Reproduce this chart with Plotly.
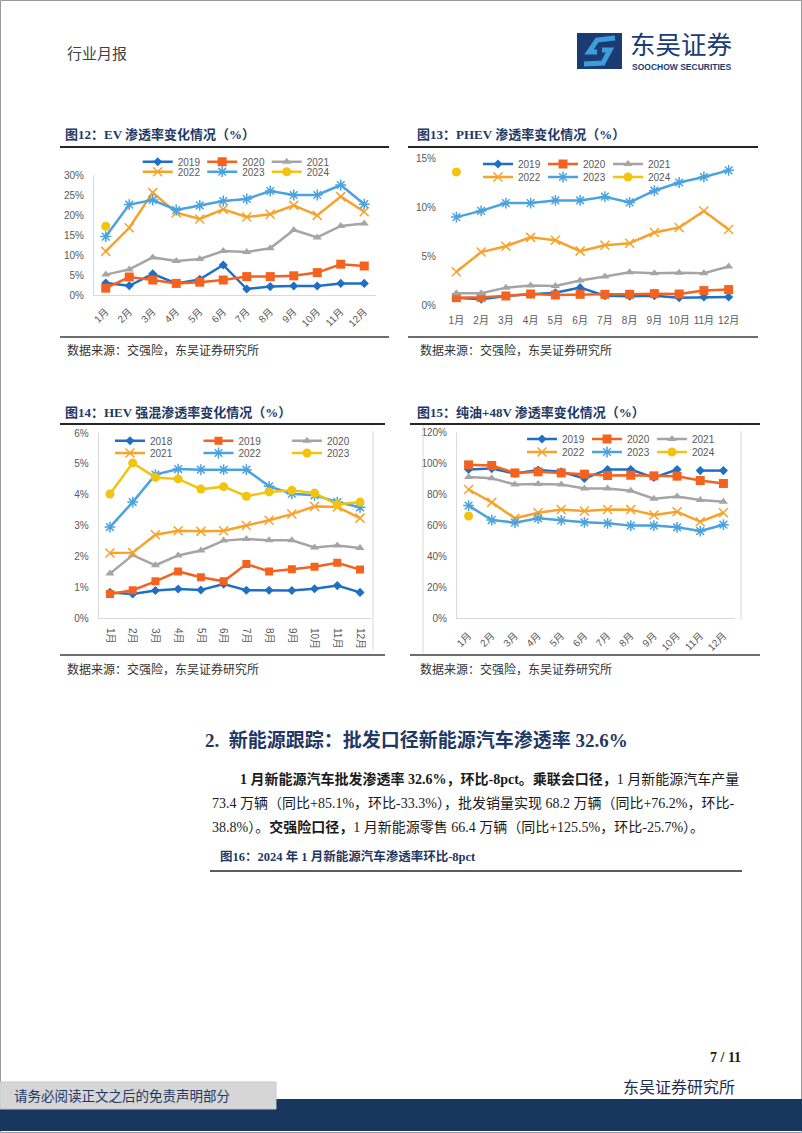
import plotly.graph_objects as go

W, H = 802, 1133

months = ['1月', '2月', '3月', '4月', '5月', '6月', '7月', '8月', '9月', '10月', '11月', '12月']

# 图12 EV 渗透率 (%)
ev_2019 = [3.0, 2.3, 5.3, 2.9, 3.9, 7.5, 1.5, 2.1, 2.25, 2.25, 2.9, 2.9]
ev_2020 = [1.7, 4.5, 3.75, 2.9, 3.2, 3.75, 4.6, 4.6, 4.8, 5.6, 7.7, 7.25]
ev_2021 = [5.1, 6.4, 9.4, 8.5, 9.0, 11.0, 10.75, 11.7, 16.25, 14.4, 17.25, 17.9]
ev_2022 = [10.9, 16.8, 25.6, 20.6, 19.0, 21.4, 19.5, 20.2, 22.4, 19.9, 24.6, 20.8]
ev_2023 = [14.6, 22.6, 23.75, 21.25, 22.4, 23.5, 24.0, 26.0, 25.0, 25.0, 27.5, 22.7]
ev_2024 = [17.2]

# 图13 PHEV 渗透率 (%)
phev_2019 = [0.75, 0.58, 0.92, 1.1, 1.25, 1.77, 0.95, 0.89, 0.95, 0.75, 0.82, 0.82]
phev_2020 = [0.75, 0.78, 0.92, 1.12, 1.02, 1.09, 1.09, 1.09, 1.16, 1.12, 1.47, 1.57]
phev_2021 = [1.2, 1.2, 1.77, 2.0, 1.95, 2.5, 2.9, 3.35, 3.24, 3.3, 3.24, 3.92]
phev_2022 = [3.4, 5.4, 6.0, 6.9, 6.6, 5.5, 6.1, 6.3, 7.4, 7.9, 9.6, 7.7]
phev_2023 = [8.97, 9.6, 10.4, 10.4, 10.67, 10.67, 11.05, 10.47, 11.66, 12.5, 13.06, 13.74]
phev_2024 = [13.57]

# 图14 HEV 强混渗透率 (%)
hev_2018 = [0.83, 0.78, 0.89, 0.94, 0.91, 1.1, 0.9, 0.9, 0.89, 0.95, 1.05, 0.83]
hev_2019 = [0.78, 0.9, 1.19, 1.51, 1.32, 1.19, 1.75, 1.51, 1.58, 1.66, 1.79, 1.57]
hev_2020 = [1.44, 2.04, 1.71, 2.03, 2.19, 2.51, 2.56, 2.52, 2.52, 2.29, 2.35, 2.27]
hev_2021 = [2.11, 2.12, 2.7, 2.83, 2.81, 2.83, 3.0, 3.17, 3.37, 3.62, 3.6, 3.24]
hev_2022 = [2.95, 3.76, 4.65, 4.83, 4.81, 4.81, 4.81, 4.27, 4.03, 3.98, 3.76, 3.59]
hev_2023 = [4.02, 5.03, 4.56, 4.51, 4.18, 4.26, 3.95, 4.09, 4.14, 4.05, 3.68, 3.76]

# 图15 纯油+48V 渗透率 (%)
oil_2019 = [95.8, 96.4, 93.2, 95.4, 94.3, 90.0, 95.8, 95.8, 90.6, 95.8, 95.1, 95.1]
oil_2020 = [98.8, 98.4, 93.6, 94.3, 93.6, 92.8, 91.9, 92.1, 91.7, 91.5, 88.7, 86.8]
oil_2021 = [91.0, 90.2, 86.1, 86.4, 86.1, 83.6, 83.6, 82.1, 77.0, 78.4, 76.1, 75.0]
oil_2022 = [82.9, 74.6, 64.3, 67.9, 70.0, 69.0, 70.0, 69.9, 66.4, 68.6, 62.1, 67.9]
oil_2023 = [72.5, 63.2, 61.5, 64.3, 63.0, 61.7, 61.1, 59.6, 59.6, 58.5, 56.1, 60.2]
oil_2024 = [65.8]

SANS = 'Liberation Sans, Arial, Noto Sans CJK SC, sans-serif'
SERIF = 'Liberation Serif, Times New Roman, Noto Sans CJK SC, serif'
CJK = 'Noto Sans CJK SC, sans-serif'
NAVY = '#1F3864'

STY = {
    'blue': dict(color='#1F6FC5', symbol='diamond', size=7, open=False),
    'red': dict(color='#F4621F', symbol='square', size=8, open=False),
    'gray': dict(color='#A5A5A5', symbol='triangle-up', size=8, open=False),
    'orange': dict(color='#F7A22B', symbol='x-thin-open', size=9, open=True),
    'lblue': dict(color='#4AA3DF', symbol='asterisk-open', size=9, open=True),
    'yellow': dict(color='#F2C40F', symbol='circle', size=9, open=False),
}


def px(x):
    return x / W


def py(y):
    return 1 - y / H


fig = go.Figure()


def add(ax, name, x, y, sty, legend, showlegend=True, size=None):
    s = STY[sty]
    sz = size or s['size']
    if s['open']:
        mk = dict(symbol=s['symbol'], size=sz, color=s['color'],
                  line=dict(color=s['color'], width=1.5))
    else:
        mk = dict(symbol=s['symbol'], size=sz, color=s['color'], line=dict(width=0))
    fig.add_trace(go.Scatter(
        x=x, y=y, name=name, mode='lines+markers',
        xaxis='x' + ax, yaxis='y' + ax,
        line=dict(color=s['color'], width=2.5),
        marker=mk, legend=legend, showlegend=showlegend, hoverinfo='skip'))


# chart 12
add('', '2019', months, ev_2019, 'blue', 'legend')
add('', '2020', months, ev_2020, 'red', 'legend', size=9)
add('', '2021', months, ev_2021, 'gray', 'legend')
add('', '2022', months, ev_2022, 'orange', 'legend2')
add('', '2023', months, ev_2023, 'lblue', 'legend2')
add('', '2024', months[:1], ev_2024, 'yellow', 'legend2')
# chart 13
add('2', '2019', months, phev_2019, 'blue', 'legend3')
add('2', '2020', months, phev_2020, 'red', 'legend3', size=9)
add('2', '2021', months, phev_2021, 'gray', 'legend3')
add('2', '2022', months, phev_2022, 'orange', 'legend4')
add('2', '2023', months, phev_2023, 'lblue', 'legend4')
add('2', '2024', months[:1], phev_2024, 'yellow', 'legend4')
# chart 14
add('3', '2018', months, hev_2018, 'blue', 'legend5')
add('3', '2019', months, hev_2019, 'red', 'legend5')
add('3', '2020', months, hev_2020, 'gray', 'legend5')
add('3', '2021', months, hev_2021, 'orange', 'legend6')
add('3', '2022', months, hev_2022, 'lblue', 'legend6')
add('3', '2023', months, hev_2023, 'yellow', 'legend6')
# chart 15
add('4', '2019', months[:10], oil_2019[:10], 'blue', 'legend7')
add('4', '2020', months, oil_2020, 'red', 'legend7', size=9)
add('4', '2021', months, oil_2021, 'gray', 'legend7')
add('4', '2022', months, oil_2022, 'orange', 'legend8')
add('4', '2023', months, oil_2023, 'lblue', 'legend8')
add('4', '2024', months[:1], oil_2024, 'yellow', 'legend8')
add('4', '2019', months[10:], oil_2019[10:], 'blue', 'legend7', showlegend=False)

TF = dict(family=SANS, size=10, color='#595959')


def xax(d0, d1, anchor, angle, line, standoff):
    return dict(domain=[px(d0), px(d1)], anchor=anchor, type='category',
                categoryorder='array', categoryarray=months, range=[-0.5, 11.5],
                tickangle=angle, showgrid=False, zeroline=False, showline=line,
                linecolor='#D9D9D9', linewidth=1, ticks='', tickfont=TF,
                ticklabelstandoff=standoff, fixedrange=True, automargin=False)


def yax(top, bottom, anchor, rmax, dt, line):
    return dict(domain=[py(bottom), py(top)], anchor=anchor, range=[0, rmax],
                dtick=dt, tick0=0, ticksuffix='%', showgrid=False, zeroline=False,
                showline=line, linecolor='#D9D9D9', linewidth=1, ticks='',
                tickfont=TF, ticklabelstandoff=7, fixedrange=True, automargin=False)


def leg(x, y, ew):
    return dict(x=px(x), y=py(y), xanchor='left', yanchor='middle', orientation='h',
                entrywidth=ew, entrywidthmode='pixels',
                font=dict(family=SANS, size=10, color='#595959'),
                bgcolor='rgba(0,0,0,0)', borderwidth=0, tracegroupgap=0,
                traceorder='normal', itemclick=False, itemdoubleclick=False)


shapes = []


def line(x0, y0, x1, y1, color, width):
    shapes.append(dict(type='line', xref='paper', yref='paper',
                       x0=px(x0), y0=py(y0), x1=px(x1), y1=py(y1),
                       line=dict(color=color, width=width)))


def rect(x0, y0, x1, y1, fill, lc=None, lw=0):
    shapes.append(dict(type='rect', xref='paper', yref='paper',
                       x0=px(x0), y0=py(y0), x1=px(x1), y1=py(y1),
                       fillcolor=fill, line=dict(color=lc or fill, width=lw)))


# page frame
rect(0.5, 0.5, 801.5, 1132.5, 'rgba(0,0,0,0)', '#9A9A9A', 1)
# chart title rules and bottom rules
line(60, 147, 389, 147, '#262626', 2)
line(408, 147, 758, 147, '#262626', 2)
line(60, 337, 389, 337, '#6E6E6E', 2)
line(408, 337, 758, 337, '#6E6E6E', 2)
line(60, 424, 385, 424, '#262626', 2)
line(410, 424, 760, 424, '#262626', 2)
line(60, 655, 385, 655, '#6E6E6E', 2)
line(410, 655, 760, 655, '#6E6E6E', 2)
# chart frames
line(373, 431, 373, 650, '#D9D9D9', 1)
line(423, 425, 423, 653, '#D9D9D9', 1)
line(741, 431, 741, 620, '#D9D9D9', 1)
# fig16 rule
line(210, 871, 742, 871, '#262626', 1.5)
# footer
rect(0, 1099, 802, 1131, '#17375E')
rect(0, 1082, 276, 1109, '#D6D6D6', '#C8C8C8', 1)
# logo
rect(577, 33, 622, 69, '#1B3C73')
shapes.append(dict(type='path', xref='paper', yref='paper',
                   path='M {} {} L {} {} L {} {} L {} {}'.format(
                       px(615), py(38), px(597), py(40), px(589), py(52), px(597), py(52)),
                   line=dict(color='#3C9DDA', width=5)))
shapes.append(dict(type='path', xref='paper', yref='paper',
                   path='M {} {} L {} {} L {} {} L {} {}'.format(
                       px(602), py(50), px(610), py(50), px(603), py(63), px(584), py(64)),
                   line=dict(color='#3C9DDA', width=5)))

ann = []


def txt(x, y, s, size, color='#333333', family=SERIF, xanchor='left'):
    ann.append(dict(x=px(x), y=py(y), xref='paper', yref='paper', text=s,
                    showarrow=False, xanchor=xanchor, yanchor='middle',
                    font=dict(family=family, size=size, color=color)))


txt(65, 52, '行业月报', 15, '#404040', CJK)
txt(628, 42, '东吴证券', 25.5, '#1B3C73', CJK)
txt(630, 66.5, '<b>SOOCHOW SECURITIES</b>', 8.5, '#1B3C73', SANS)

txt(63, 134, '<b>图12：EV 渗透率变化情况（%）</b>', 13, NAVY)
txt(415, 134, '<b>图13：PHEV 渗透率变化情况（%）</b>', 13, NAVY)
txt(63, 412, '<b>图14：HEV 强混渗透率变化情况（%）</b>', 13, NAVY)
txt(415, 412, '<b>图15：纯油+48V 渗透率变化情况（%）</b>', 13, NAVY)
for (sx, sy) in [(65, 350), (418, 350), (65, 669), (418, 669)]:
    txt(sx, sy, '数据来源：交强险，东吴证券研究所', 12, '#333333')

txt(203, 740, '<b>2.\u00a0\u00a0新能源跟踪：批发口径新能源汽车渗透率 32.6%</b>', 19, NAVY)
txt(238, 779, '<b>1 月新能源汽车批发渗透率 32.6%，环比-8pct。乘联会口径，</b>1 月新能源汽车产量', 14, '#1A1A1A')
txt(210, 803, '73.4 万辆（同比+85.1%，环比-33.3%），批发销量实现 68.2 万辆（同比+76.2%，环比-', 14, '#1A1A1A')
txt(210, 827, '38.8%）。<b>交强险口径，</b>1 月新能源零售 66.4 万辆（同比+125.5%，环比-25.7%）。', 14, '#1A1A1A')
txt(218, 856, '<b>图16：2024 年 1 月新能源汽车渗透率环比-8pct</b>', 12.5, NAVY)

txt(743, 1057, '<b>7 / 11</b>', 14, '#1A1A1A', SERIF, 'right')
txt(737, 1086, '东吴证券研究所', 16, '#1F2D4D', CJK, 'right')
txt(12, 1095, '请务必阅读正文之后的免责声明部分', 13.5, '#1F3864', CJK)

fig.update_layout(
    width=W, height=H, autosize=False,
    margin=dict(l=0, r=0, t=0, b=0, pad=0),
    paper_bgcolor='white', plot_bgcolor='rgba(0,0,0,0)',
    showlegend=True,
    xaxis=xax(94, 376, 'y', -45, True, 6),
    yaxis=yax(175, 295, 'x', 30, 5, True),
    xaxis2=xax(444, 741, 'y2', 0, False, 8),
    yaxis2=yax(158, 305, 'x2', 15, 5, False),
    xaxis3=xax(98.6, 371.4, 'y3', 90, True, 7),
    yaxis3=yax(433, 618, 'x3', 6, 1, True),
    xaxis4=xax(457, 735, 'y4', -45, True, 7),
    yaxis4=yax(432, 618, 'x4', 120, 20, True),
    legend=leg(137.7, 161.7, 19.5),
    legend2=leg(137.7, 171.7, 19.5),
    legend3=leg(478, 164, 20),
    legend4=leg(478, 177, 20),
    legend5=leg(110, 440.7, 43.5),
    legend6=leg(110, 453, 43.5),
    legend7=leg(522, 439, 20),
    legend8=leg(522, 452, 20),
    shapes=shapes,
    annotations=ann,
)

fig.write_html('out.html',
               config={'displayModeBar': False, 'staticPlot': True},
               post_script="document.body.style.margin='0';"
                           "document.documentElement.style.overflow='hidden';")
